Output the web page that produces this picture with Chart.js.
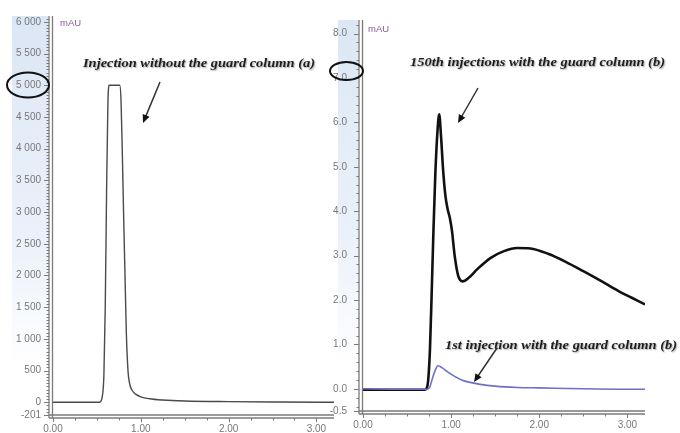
<!DOCTYPE html>
<html>
<head>
<meta charset="utf-8">
<script src="https://cdn.jsdelivr.net/npm/chart.js@4.4.1/dist/chart.umd.min.js"></script>
<style>
  html, body { margin: 0; padding: 0; background: #fff; }
  #wrap { position: relative; width: 680px; height: 433px; overflow: hidden; }
  #wrap canvas { position: absolute; top: 0; }
  #chartA { left: 0; }
  #chartB { left: 326px; }
</style>
</head>
<body>
<div id="wrap">
  <canvas id="chartA" width="336" height="433"></canvas>
  <canvas id="chartB" width="354" height="433"></canvas>
</div>
<script>
// (a) injection without guard column: retention time (min) vs mAU
const timeA = [0, 0.53, 0.56, 0.58, 0.595, 0.61, 0.625, 0.64, 0.76, 0.775, 0.79, 0.805, 0.82, 0.835, 0.855, 0.875, 0.9, 0.95, 1.0, 1.1, 1.25, 1.5, 2.0, 2.6, 3.2];
const signalA = [0, 0, 80, 450, 1500, 3300, 4700, 5000, 5000, 4750, 3900, 2900, 2000, 1100, 480, 280, 190, 120, 85, 55, 35, 20, 10, 4, 0];

// (b) 150th injection with guard column
const timeB150 = [0, 0.5, 0.7, 0.72, 0.74, 0.76, 0.78, 0.8, 0.82, 0.845, 0.865, 0.885, 0.91, 0.935, 0.96, 0.985, 1.01, 1.04, 1.08, 1.13, 1.2, 1.3, 1.45, 1.6, 1.75, 1.9, 2.1, 2.3, 2.5, 2.7, 2.9, 3.05, 3.2];
const signalB150 = [-0.02, -0.02, -0.02, 0.0, 0.2, 0.9, 2.2, 3.6, 4.8, 5.8, 6.18, 5.7, 4.9, 4.35, 4.05, 3.85, 3.55, 3.0, 2.55, 2.42, 2.5, 2.7, 2.95, 3.1, 3.17, 3.16, 3.04, 2.86, 2.65, 2.43, 2.2, 2.05, 1.9];

// (b) 1st injection with guard column
const timeB1 = [0, 0.5, 0.73, 0.76, 0.79, 0.82, 0.85, 0.9, 0.96, 1.04, 1.12, 1.2, 1.33, 1.5, 1.75, 2.0, 2.5, 3.0, 3.2];
const signalB1 = [0, -0.01, -0.01, 0.05, 0.25, 0.42, 0.52, 0.47, 0.38, 0.28, 0.2, 0.15, 0.1, 0.06, 0.03, 0.02, 0.0, -0.01, -0.01];

const xTicks = [0, 1, 2, 3];
const yTicksA = [-201, 0, 500, 1000, 1500, 2000, 2500, 3000, 3500, 4000, 4500, 5000, 5500, 6000];
const yTicksB = [-0.5, 0, 1, 2, 3, 4, 5, 6, 7, 8];

const pts = (xs, ys) => xs.map((x, i) => ({ x: x, y: ys[i] }));
const spaced = v => String(v).replace(/\B(?=(\d{3})+(?!\d))/g, ' ');
const tickFont = { family: '"Liberation Sans", Arial, sans-serif', size: 10 };

function arrow(ctx, x1, y1, x2, y2) {
  const ang = Math.atan2(y2 - y1, x2 - x1), h = 9;
  ctx.beginPath();
  ctx.moveTo(x1, y1);
  ctx.lineTo(x2 - Math.cos(ang) * h * 0.8, y2 - Math.sin(ang) * h * 0.8);
  ctx.stroke();
  ctx.beginPath();
  ctx.moveTo(x2, y2);
  ctx.lineTo(x2 - h * Math.cos(ang - 0.42), y2 - h * Math.sin(ang - 0.42));
  ctx.lineTo(x2 - h * Math.cos(ang + 0.42), y2 - h * Math.sin(ang + 0.42));
  ctx.closePath();
  ctx.fill();
}

const decor = {
  id: 'decor',
  beforeDraw(chart, args, o) {
    const { ctx, chartArea: a } = chart;
    const g = ctx.createLinearGradient(0, a.top, 0, a.bottom);
    g.addColorStop(0, '#dce7f5');
    g.addColorStop(0.55, '#ebf1fa');
    g.addColorStop(0.88, '#ffffff');
    ctx.save();
    ctx.fillStyle = g;
    ctx.fillRect(o.bandLeft, a.top - 2, a.left - 5 - o.bandLeft, a.bottom - a.top);
    ctx.restore();
  },
  afterDraw(chart, args, o) {
    const { ctx, chartArea: a, scales: { x, y } } = chart;
    ctx.save();
    ctx.strokeStyle = '#7a7a7a';
    ctx.lineWidth = 1.3;
    const seg = (x1, y1, x2, y2) => { ctx.beginPath(); ctx.moveTo(x1, y1); ctx.lineTo(x2, y2); ctx.stroke(); };
    // double axis lines
    seg(a.left - 4, a.top - 2, a.left - 4, a.bottom + 3);
    seg(a.left - 0.5, a.top - 2, a.left - 0.5, a.bottom + 3);
    seg(a.left - 4, a.bottom, a.right, a.bottom);
    seg(a.left - 4, a.bottom + 3, a.right, a.bottom + 3);
    // y ruler ticks
    ctx.lineWidth = 1;
    const major = new Set(o.yMajor);
    for (let v = Math.ceil(y.min / o.yStep) * o.yStep; v <= y.max + 1e-9; v += o.yStep) {
      const vv = Math.round(v * 1000) / 1000;
      const py = Math.round(y.getPixelForValue(vv)) + 0.5;
      const len = major.has(vv) ? 5 : 2.5;
      seg(a.left - 4 - len, py, a.left - 4, py);
    }
    if (major.has(y.min)) {
      const py = Math.round(y.getPixelForValue(y.min)) + 0.5;
      seg(a.left - 9, py, a.left - 4, py);
    }
    // x ruler ticks
    for (let v = 0; v <= x.max + 1e-9; v += 0.25) {
      const px = Math.round(x.getPixelForValue(v)) + 0.5;
      const len = Math.abs(v - Math.round(v)) < 1e-6 ? 4 : 2.5;
      seg(px, a.bottom + 3, px, a.bottom + 3 + len);
    }
    // unit label
    ctx.fillStyle = '#8a5c93';
    ctx.font = '9.5px "Liberation Sans", Arial, sans-serif';
    ctx.textBaseline = 'middle';
    ctx.fillText('mAU', o.mau[0], o.mau[1]);
    // annotations
    ctx.fillStyle = '#1e1e1e';
    ctx.textBaseline = 'middle';
    ctx.font = 'bold italic 13px "Liberation Serif", serif';
    o.notes.forEach(n => {
      const w = ctx.measureText(n.t).width;
      ctx.save();
      ctx.shadowColor = 'rgba(0,0,0,0.35)';
      ctx.shadowBlur = 1.5;
      ctx.shadowOffsetX = 1;
      ctx.shadowOffsetY = 1;
      ctx.translate(n.x, n.y);
      ctx.scale(n.w / w, 1);
      ctx.fillText(n.t, 0, 0);
      ctx.restore();
    });
    ctx.strokeStyle = '#333';
    ctx.fillStyle = '#111';
    ctx.lineWidth = 1.5;
    o.arrows.forEach(r => arrow(ctx, r[0], r[1], r[2], r[3]));
    ctx.strokeStyle = '#111';
    ctx.lineWidth = 2;
    o.rings.forEach(r => {
      ctx.beginPath();
      ctx.ellipse(r[0], r[1], r[2], r[3], 0, 0, Math.PI * 2);
      ctx.stroke();
    });
    ctx.restore();
  }
};

function xScale(h) {
  return {
    type: 'linear', min: 0, max: 3.2,
    afterBuildTicks: s => { s.ticks = xTicks.map(v => ({ value: v })); },
    afterFit: s => { s.height = h; },
    grid: { display: false, drawTicks: false }, border: { display: false },
    ticks: { font: tickFont, color: '#777', padding: 8, maxRotation: 0, autoSkip: false,
      callback: v => Number(v).toFixed(2) }
  };
}

new Chart(document.getElementById('chartA'), {
  type: 'line',
  data: {
    datasets: [{
      data: pts(timeA, signalA),
      borderColor: '#4a4a4a', borderWidth: 1.4, pointRadius: 0,
      cubicInterpolationMode: 'monotone'
    }]
  },
  options: {
    responsive: false, animation: false,
    layout: { padding: { top: 13, right: 2, left: 0, bottom: 0 } },
    plugins: {
      legend: { display: false }, tooltip: { enabled: false },
      decor: {
        bandLeft: 12, yStep: 50, yMajor: yTicksA, mau: [60, 23],
        notes: [{ t: 'Injection without the guard column (a)', x: 83, y: 64, w: 232 }],
        arrows: [[160, 82, 143, 123]],
        rings: [[28, 85, 21, 12.5]]
      }
    },
    scales: {
      x: xScale(17.5),
      y: {
        type: 'linear', min: -201, max: 6062,
        afterBuildTicks: s => { s.ticks = yTicksA.map(v => ({ value: v })); },
        afterFit: s => { s.width = 53; },
        grid: { display: false, drawTicks: false }, border: { display: false },
        ticks: { font: tickFont, color: '#777', padding: 12, autoSkip: false, callback: v => spaced(v) }
      }
    }
  },
  plugins: [decor]
});

new Chart(document.getElementById('chartB'), {
  type: 'line',
  data: {
    datasets: [{
      data: pts(timeB1, signalB1),
      borderColor: '#6d70c6', borderWidth: 1.6, pointRadius: 0,
      cubicInterpolationMode: 'monotone'
    }, {
      data: pts(timeB150, signalB150),
      borderColor: '#111111', borderWidth: 2.6, pointRadius: 0,
      cubicInterpolationMode: 'monotone'
    }]
  },
  options: {
    responsive: false, animation: false,
    layout: { padding: { top: 13, right: 35, left: 0, bottom: 0 } },
    plugins: {
      legend: { display: false }, tooltip: { enabled: false },
      decor: {
        bandLeft: 12, yStep: 0.2, yMajor: yTicksB, mau: [42, 29],
        notes: [
          { t: '150th injections with the guard column (b)', x: 84, y: 63, w: 255 },
          { t: '1st injection with the guard column (b)', x: 119, y: 346, w: 232 }
        ],
        arrows: [[152, 88, 132, 123], [171, 348, 148, 382]],
        rings: [[20.5, 71, 16.5, 9]]
      }
    },
    scales: {
      x: xScale(18),
      y: {
        type: 'linear', min: -0.5, max: 8.26,
        afterBuildTicks: s => { s.ticks = yTicksB.map(v => ({ value: v })); },
        afterFit: s => { s.width = 37; },
        grid: { display: false, drawTicks: false }, border: { display: false },
        ticks: { font: tickFont, color: '#777', padding: 16, autoSkip: false,
          callback: v => Number(v).toFixed(1) }
      }
    }
  },
  plugins: [decor]
});
</script>
</body>
</html>
